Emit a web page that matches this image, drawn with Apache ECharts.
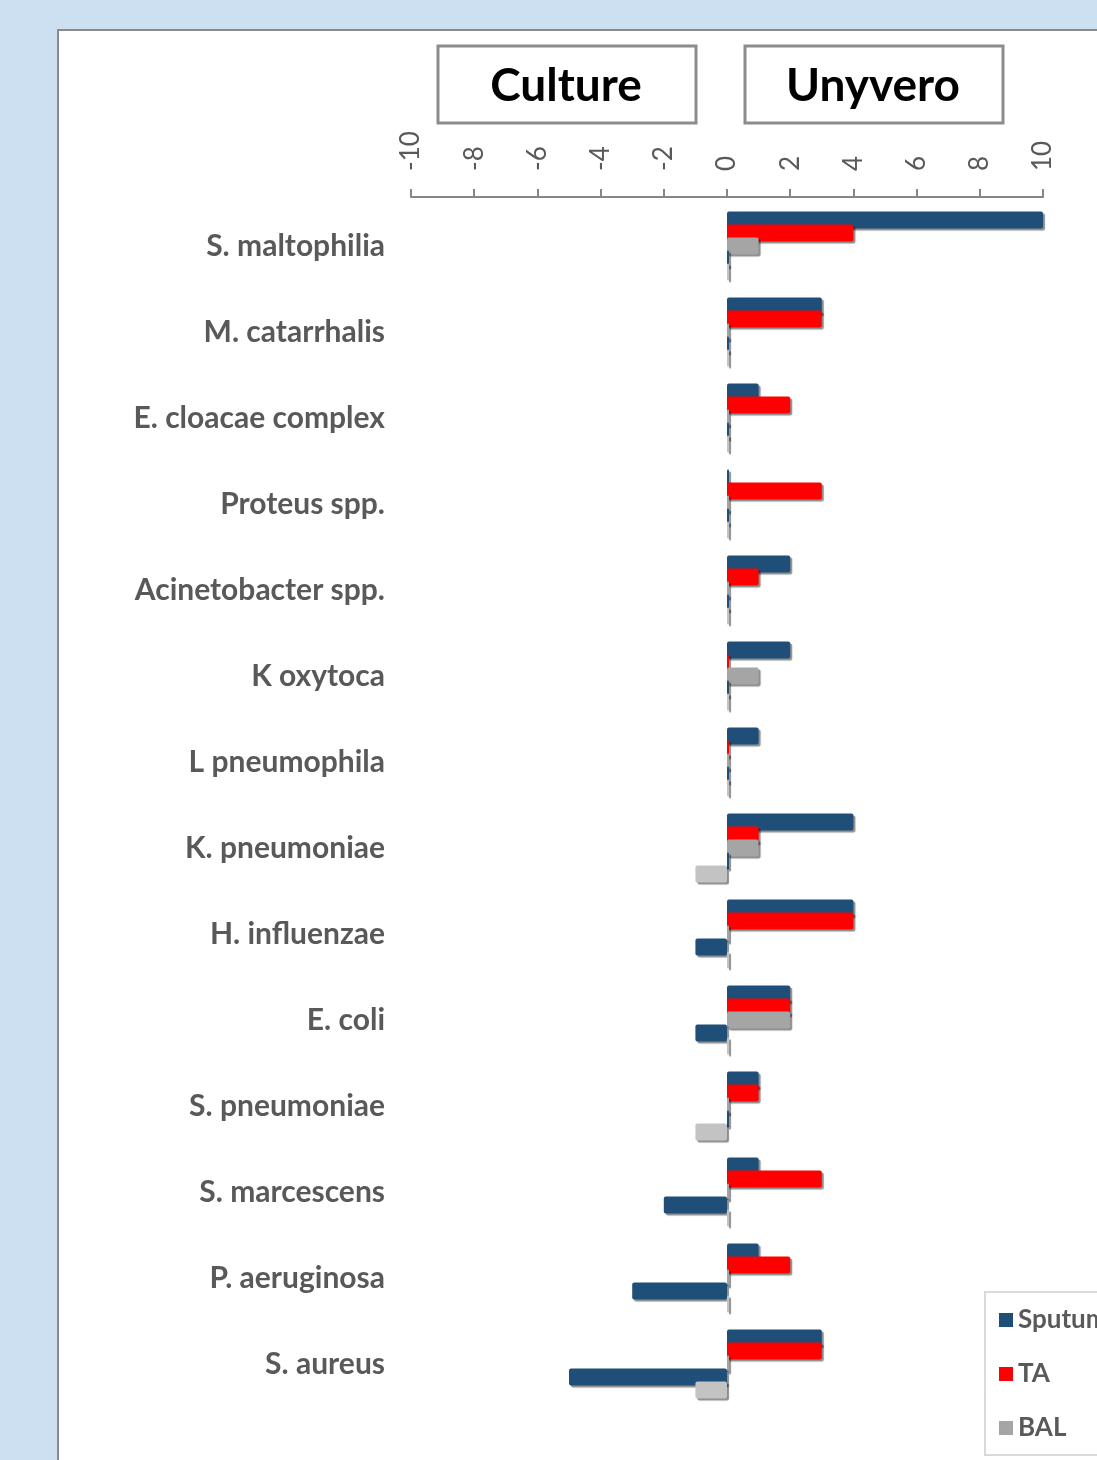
<!DOCTYPE html>
<html>
<head>
<meta charset="utf-8">
<script src="https://cdn.jsdelivr.net/npm/echarts@6/dist/echarts.min.js"></script>
<style>
  html, body { margin: 0; padding: 0; background: #cde0f2; }
  #chart { width: 1097px; height: 1460px; }
</style>
</head>
<body>
<div id="chart"></div>
<script>
// ---- data ----
const categories = ['S. maltophilia', 'M. catarrhalis', 'E. cloacae complex', 'Proteus spp.',
  'Acinetobacter spp.', 'K oxytoca', 'L pneumophila', 'K. pneumoniae', 'H. influenzae',
  'E. coli', 'S. pneumoniae', 'S. marcescens', 'P. aeruginosa', 'S. aureus'];
// Unyvero (positive side)
const sputumUnyvero = [10, 3, 1, 0, 2, 2, 1, 4, 4, 2, 1, 1, 1, 3];
const taUnyvero     = [4, 3, 2, 3, 1, 0, 0, 1, 4, 2, 1, 3, 2, 3];
const balUnyvero    = [1, 0, 0, 0, 0, 1, 0, 1, 0, 2, 0, 0, 0, 0];
// Culture (negative side)
const sputumCulture = [0, 0, 0, 0, 0, 0, 0, 0, -1, -1, 0, -2, -3, -5];
const balCulture    = [0, 0, 0, 0, 0, 0, 0, -1, 0, 0, -1, 0, 0, -1];
const xTicks = { min: -10, max: 10, interval: 2 };
const legendNames = ['Sputum', 'TA', 'BAL'];

const FONT = 'Lato, "Open Sans", sans-serif';
const chart = echarts.init(document.getElementById('chart'));

function barSeries(name, data, color) {
  return {
    name: name,
    type: 'bar',
    data: data,
    barWidth: 17,
    barGap: '-23.5%',
    barMinHeight: 2,
    itemStyle: {
      color: color,
      borderRadius: 2,
      shadowColor: 'rgba(0,0,0,0.45)',
      shadowBlur: 1,
      shadowOffsetX: 2,
      shadowOffsetY: 2
    },
    emphasis: { disabled: true }
  };
}

const option = {
  backgroundColor: '#cde0f2',
  animation: false,
  graphic: [
    { type: 'rect', z: -10, shape: { x: 58, y: 30, width: 1100, height: 1500 },
      style: { fill: '#ffffff', stroke: '#8a8a8a', lineWidth: 2 } },
    { type: 'rect', z: 10, shape: { x: 438, y: 46, width: 258, height: 77 },
      style: { fill: '#ffffff', stroke: '#8c8c8c', lineWidth: 3 } },
    { type: 'text', z: 11, x: 566, y: 86,
      style: { text: 'Culture', fill: '#000', font: 'bold 46px ' + FONT, align: 'center', verticalAlign: 'middle' } },
    { type: 'rect', z: 10, shape: { x: 745, y: 46, width: 258, height: 77 },
      style: { fill: '#ffffff', stroke: '#8c8c8c', lineWidth: 3 } },
    { type: 'text', z: 11, x: 873, y: 86,
      style: { text: 'Unyvero', fill: '#000', font: 'bold 46px ' + FONT, align: 'center', verticalAlign: 'middle' } }
  ],
  grid: { left: 411, right: 54, top: 203, bottom: 53, containLabel: false },
  legend: {
    data: legendNames,
    orient: 'vertical',
    left: 985,
    top: 1292,
    padding: [15, 40, 14, 14],
    itemGap: 28,
    itemWidth: 14,
    itemHeight: 14,
    icon: 'rect',
    borderColor: '#d9d9d9',
    borderWidth: 2,
    backgroundColor: '#ffffff',
    itemStyle: { shadowBlur: 0, shadowOffsetX: 0, shadowOffsetY: 0, shadowColor: 'transparent', borderRadius: 0 },
    textStyle: { color: '#595959', fontFamily: FONT, fontWeight: 'bold', fontSize: 26 }
  },
  xAxis: {
    type: 'value',
    position: 'top',
    offset: 6,
    min: xTicks.min,
    max: xTicks.max,
    interval: xTicks.interval,
    splitLine: { show: false },
    axisLine: { show: true, lineStyle: { color: '#868686', width: 2 } },
    axisTick: { show: true, length: 8, lineStyle: { color: '#868686', width: 2 } },
    axisLabel: {
      rotate: -90,
      margin: 26,
      color: '#595959',
      fontFamily: FONT,
      fontSize: 26
    }
  },
  yAxis: {
    type: 'category',
    data: categories,
    inverse: true,
    axisLine: { show: false },
    axisTick: { show: false },
    axisLabel: {
      margin: 26,
      color: '#595959',
      fontFamily: FONT,
      fontWeight: 'bold',
      fontSize: 30,
      padding: [0, 0, 6, 0]
    }
  },
  series: [
    barSeries('Sputum', sputumUnyvero, '#1f4e79'),
    barSeries('TA', taUnyvero, '#ff0000'),
    barSeries('BAL', balUnyvero, '#a5a5a5'),
    barSeries('Sputum', sputumCulture, '#1f4e79'),
    barSeries('BAL', balCulture, '#c3c3c3')
  ]
};
chart.setOption(option);
</script>
</body>
</html>
